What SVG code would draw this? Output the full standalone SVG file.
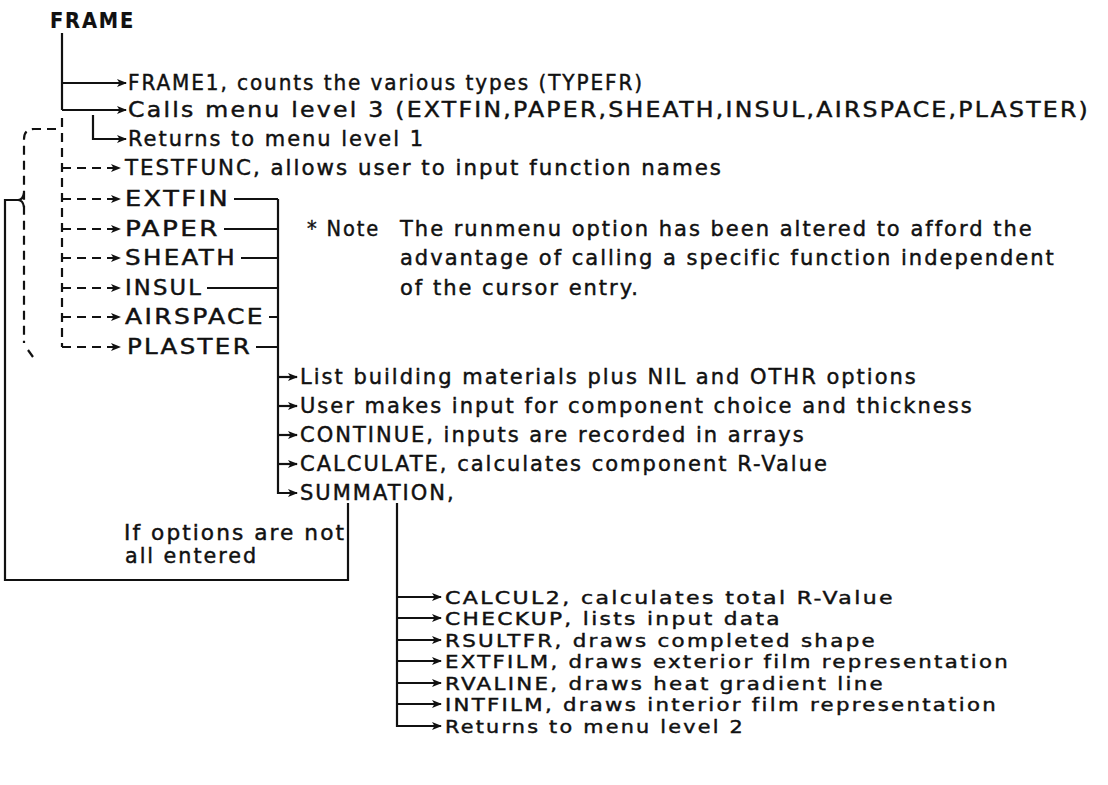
<svg xmlns="http://www.w3.org/2000/svg" width="1108" height="785" viewBox="0 0 1108 785">
<style>
.t{font-family:"DejaVu Sans","Liberation Sans",sans-serif;font-size:21px;letter-spacing:2px;fill:#111;stroke:#111;stroke-width:0.45}
.s{font-size:18.5px}
.b{font-weight:bold;stroke-width:0.2}
.ln{stroke:#111;stroke-width:2.2;fill:none}
.ds{stroke-dasharray:9 6}
</style>
<defs>
<marker id="ah" markerUnits="userSpaceOnUse" markerWidth="10" markerHeight="8" refX="9" refY="4" orient="auto">
<path d="M0,0 L10,4 L0,8 L2.5,4 z" fill="#111"/>
</marker>
</defs>
<rect width="1108" height="785" fill="#fff"/>
<g id="connectors">
<path class="ln" d="M62,33 V110"/>
<path class="ln" d="M62,83 H126" marker-end="url(#ah)"/>
<path class="ln" d="M62,110 H126" marker-end="url(#ah)"/>
<path class="ln" d="M93,115 V139 H126" marker-end="url(#ah)"/>
<path class="ln ds" d="M62,118 V347"/>
<path class="ln ds" d="M62,168 H120" marker-end="url(#ah)"/>
<path class="ln ds" d="M62,199 H120" marker-end="url(#ah)"/>
<path class="ln ds" d="M62,229 H120" marker-end="url(#ah)"/>
<path class="ln ds" d="M62,258 H120" marker-end="url(#ah)"/>
<path class="ln ds" d="M62,288 H120" marker-end="url(#ah)"/>
<path class="ln ds" d="M62,317 H120" marker-end="url(#ah)"/>
<path class="ln ds" d="M62,347 H120" marker-end="url(#ah)"/>
<path class="ln ds" d="M56,129 H34 Q24,129 24,139 V343"/>
<path class="ln" d="M28,350 L33,357"/>
<path class="ln" d="M348,503 V580 H5 V200 H18"/>
<path class="ln" d="M18,200 Q23,200 24,193 M18,200 Q23,200 24,207"/>
<path class="ln" d="M234,199 H278 M224,229 H278 M241,258 H278 M207,288 H278 M269,317 H278 M256,347 H278"/>
<path class="ln" d="M278,199 V493 H297" marker-end="url(#ah)"/>
<path class="ln" d="M278,377 H297" marker-end="url(#ah)"/>
<path class="ln" d="M278,406 H297" marker-end="url(#ah)"/>
<path class="ln" d="M278,435 H297" marker-end="url(#ah)"/>
<path class="ln" d="M278,464 H297" marker-end="url(#ah)"/>
<path class="ln" d="M397,503 V726 H441" marker-end="url(#ah)"/>
<path class="ln" d="M397,597 H441" marker-end="url(#ah)"/>
<path class="ln" d="M397,618 H441" marker-end="url(#ah)"/>
<path class="ln" d="M397,640 H441" marker-end="url(#ah)"/>
<path class="ln" d="M397,661 H441" marker-end="url(#ah)"/>
<path class="ln" d="M397,683 H441" marker-end="url(#ah)"/>
<path class="ln" d="M397,704 H441" marker-end="url(#ah)"/>
</g>
<g id="frame"><text class="t b" x="50" y="28" textLength="85" lengthAdjust="spacingAndGlyphs">FRAME</text></g>
<g id="frame1"><text class="t" x="128" y="90" textLength="516" lengthAdjust="spacingAndGlyphs">FRAME1, counts the various types (TYPEFR)</text></g>
<g id="calls"><text class="t" x="128" y="117" textLength="962" lengthAdjust="spacingAndGlyphs">Calls menu level 3 (EXTFIN,PAPER,SHEATH,INSUL,AIRSPACE,PLASTER)</text></g>
<g id="returns1"><text class="t" x="128" y="146" textLength="297" lengthAdjust="spacingAndGlyphs">Returns to menu level 1</text></g>
<g id="testfunc"><text class="t" x="125" y="175" textLength="598" lengthAdjust="spacingAndGlyphs">TESTFUNC, allows user to input function names</text></g>
<g id="extfin"><text class="t" x="125" y="206" textLength="105" lengthAdjust="spacingAndGlyphs">EXTFIN</text></g>
<g id="paper"><text class="t" x="125" y="236" textLength="95" lengthAdjust="spacingAndGlyphs">PAPER</text></g>
<g id="sheath"><text class="t" x="125" y="265" textLength="112" lengthAdjust="spacingAndGlyphs">SHEATH</text></g>
<g id="insul"><text class="t" x="125" y="295" textLength="78" lengthAdjust="spacingAndGlyphs">INSUL</text></g>
<g id="airspace"><text class="t" x="125" y="324" textLength="140" lengthAdjust="spacingAndGlyphs">AIRSPACE</text></g>
<g id="plaster"><text class="t" x="127" y="354" textLength="125" lengthAdjust="spacingAndGlyphs">PLASTER</text></g>
<g id="note">
<text class="t" x="307" y="236" textLength="73" lengthAdjust="spacingAndGlyphs">* Note</text>
<text class="t" x="400" y="236">The runmenu option has been altered to afford the</text>
<text class="t" x="400" y="265">advantage of calling a specific function independent</text>
<text class="t" x="400" y="295">of the cursor entry.</text>
</g>
<g id="list"><text class="t" x="300" y="384">List building materials plus NIL and OTHR options</text></g>
<g id="user"><text class="t" x="300" y="413">User makes input for component choice and thickness</text></g>
<g id="continue"><text class="t" x="300" y="442">CONTINUE, inputs are recorded in arrays</text></g>
<g id="calculate"><text class="t" x="300" y="471">CALCULATE, calculates component R-Value</text></g>
<g id="summation"><text class="t" x="300" y="500">SUMMATION,</text></g>
<g id="ifoptions">
<text class="t" x="124" y="540" textLength="222" lengthAdjust="spacingAndGlyphs">If options are not</text>
<text class="t" x="125" y="563" textLength="133" lengthAdjust="spacingAndGlyphs">all entered</text>
</g>
<g id="calcul2"><text class="t s" x="445" y="604" textLength="450" lengthAdjust="spacingAndGlyphs">CALCUL2, calculates total R-Value</text></g>
<g id="checkup"><text class="t s" x="445" y="625" textLength="337" lengthAdjust="spacingAndGlyphs">CHECKUP, lists input data</text></g>
<g id="rsultfr"><text class="t s" x="445" y="647" textLength="432" lengthAdjust="spacingAndGlyphs">RSULTFR, draws completed shape</text></g>
<g id="extfilm"><text class="t s" x="445" y="668" textLength="565" lengthAdjust="spacingAndGlyphs">EXTFILM, draws exterior film representation</text></g>
<g id="rvaline"><text class="t s" x="445" y="690" textLength="440" lengthAdjust="spacingAndGlyphs">RVALINE, draws heat gradient line</text></g>
<g id="intfilm"><text class="t s" x="445" y="711" textLength="553" lengthAdjust="spacingAndGlyphs">INTFILM, draws interior film representation</text></g>
<g id="returns2"><text class="t s" x="445" y="733" textLength="300" lengthAdjust="spacingAndGlyphs">Returns to menu level 2</text></g>
</svg>
